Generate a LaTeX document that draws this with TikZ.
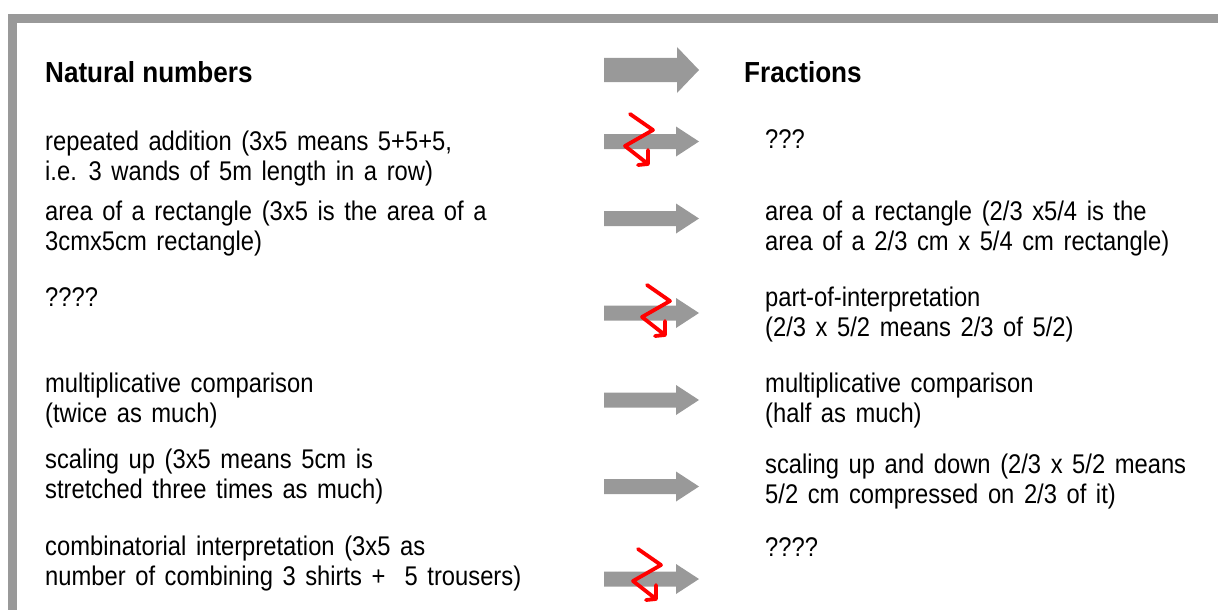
\documentclass[tikz,border=0pt]{standalone}
\usepackage{fontspec}
\setmainfont{Liberation Sans}[FakeStretch=0.88, WordSpace=1.45]
\newfontfamily\headfont{Liberation Sans}[FakeStretch=0.9]

\begin{document}
\begin{tikzpicture}[
  x=1pt, y=-1pt,
  frame/.style  = {fill=black!40},
  block/.style  = {fill=black!40},      % the grey block arrows between the columns
  scribble/.style = {draw=red, line width=3.8pt, line join=round, line cap=round},
                       % a red hand-drawn zigzag: this mapping does not carry over
  txt/.style    = {anchor=base west, align=left, inner sep=0pt,
                   font=\fontsize{27}{30}\selectfont},
                       % base = last line of a two-line node
  head/.style   = {anchor=base west, inner sep=0pt,
                   font=\headfont\fontsize{29}{32}\selectfont\bfseries},
]
  \useasboundingbox (0,0) rectangle (1218,610);

  % frame: a grey bar on top and one on the left
  \fill[frame] (8,14) rectangle (1218,23);
  \fill[frame] (8,14) rectangle (17,610);

  % column heads
  \node[head] (nat_head)  at (45,82)  {Natural numbers};
  \node[head] (frac_head) at (744,82) {Fractions};
  \fill[block] (604,58) -- (677,58) -- (677,47) -- (699,70)
               -- (677,93) -- (677,82) -- (604,82) -- cycle;

  % natural numbers
  \node[txt] (nat_add)   at (45,180) {repeated addition (3x5 means 5+5+5,\\i.e. 3 wands of 5m length in a row)};
  \node[txt] (nat_area)  at (45,250) {area of a rectangle (3x5 is the area of a\\3cmx5cm rectangle)};
  \node[txt] (nat_part)  at (45,306) {????};
  \node[txt] (nat_comp)  at (45,422) {multiplicative comparison\\(twice as much)};
  \node[txt] (nat_scale) at (45,498) {scaling up (3x5 means 5cm is\\stretched three times as much)};
  \node[txt] (nat_comb)  at (45,585) {combinatorial interpretation (3x5 as\\number of combining 3 shirts +\ \ 5 trousers)};

  % fractions
  \node[txt] (frac_add)   at (765,148) {???};
  \node[txt] (frac_area)  at (765,250) {area of a rectangle (2/3 x5/4 is the\\area of a 2/3 cm x 5/4 cm rectangle)};
  \node[txt] (frac_part)  at (765,336) {part-of-interpretation\\(2/3 x 5/2 means 2/3 of 5/2)};
  \node[txt] (frac_comp)  at (765,422) {multiplicative comparison\\(half as much)};
  \node[txt] (frac_scale) at (765,503) {scaling up and down (2/3 x 5/2 means\\5/2 cm compressed on 2/3 of it)};
  \node[txt] (frac_comb)  at (765,556) {????};

  % one block arrow per row
  \foreach \y in {141.5,218.5,313,400,486.5,579}
    \fill[block] (604,\y-7.5) -- (676,\y-7.5) -- (676,\y-15) -- (699,\y)
                 -- (676,\y+15) -- (676,\y+7.5) -- (604,\y+7.5) -- cycle;

  % crossed-out rows
  \foreach \x/\y in {630/114, 647/285, 638/549}
    \draw[scribble] (\x,\y) -- ++(23,16) -- ++(-28,16) -- ++(23,18)
                    ++(0,-14) -- ++(0,14) -- ++(-10,1);
\end{tikzpicture}
\end{document}
